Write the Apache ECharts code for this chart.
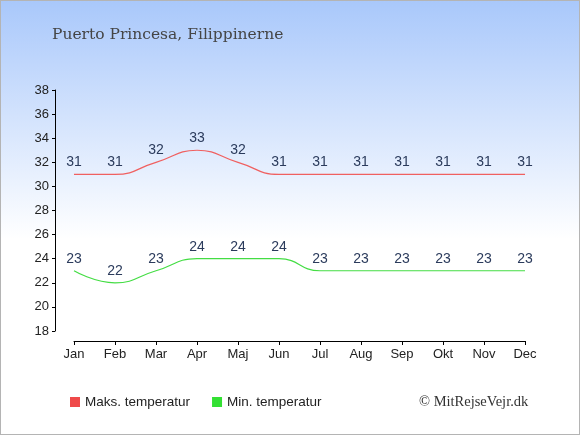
<!DOCTYPE html>
<html>
<head>
<meta charset="utf-8">
<script src="https://cdn.jsdelivr.net/npm/echarts@6/dist/echarts.min.js"></script>
<style>
  html, body { margin: 0; padding: 0; }
  #wrap { width: 580px; height: 435px; box-sizing: border-box; border: 1px solid #b4b4b4; }
  #chart { width: 578px; height: 433px; }
</style>
</head>
<body>
<div id="wrap"><div id="chart"></div></div>
<script>
const months = ['Jan', 'Feb', 'Mar', 'Apr', 'Maj', 'Jun', 'Jul', 'Aug', 'Sep', 'Okt', 'Nov', 'Dec']
const maxTemp = [31, 31, 32, 33, 32, 31, 31, 31, 31, 31, 31, 31]
const minTemp = [23, 22, 23, 24, 24, 24, 23, 23, 23, 23, 23, 23]
const titleText = 'Puerto Princesa, Filippinerne'
const copyText = '© MitRejseVejr.dk'

const chart = echarts.init(document.getElementById('chart'))

// label over each point
const pointLabel = {
  show: true,
  position: 'top',
  distance: 5,
  color: '#2b3b5c',
  fontSize: 14,
  fontFamily: 'Liberation Sans, Arial, sans-serif'
}

chart.setOption({
  animation: false,
  backgroundColor: new echarts.graphic.LinearGradient(0, 0, 0, 1, [
    { offset: 0, color: '#a9c8fb' },
    { offset: 0.55, color: '#ffffff' },
    { offset: 1, color: '#ffffff' }
  ]),
  title: [{
    text: titleText,
    left: 46,
    top: 21,
    textStyle: {
      fontFamily: 'DejaVu Serif, serif',
      fontWeight: 'normal',
      fontSize: 15.5,
      color: '#454545'
    }
  }, {
    text: copyText,
    left: 413,
    top: 389,
    textStyle: {
      fontFamily: 'Liberation Serif, Times New Roman, serif',
      fontWeight: 'normal',
      fontSize: 14.5,
      color: '#333'
    }
  }],
  legend: {
    left: 64,
    top: 389,
    itemWidth: 10,
    itemHeight: 10,
    itemGap: 22,
    icon: 'rect',
    textStyle: {
      fontFamily: 'Liberation Sans, Arial, sans-serif',
      fontSize: 13.5,
      color: '#222'
    },
    data: ['Maks. temperatur', 'Min. temperatur']
  },
  grid: {
    left: 73,
    right: 54,
    top: 89,
    bottom: 103
  },
  xAxis: {
    type: 'category',
    data: months,
    boundaryGap: false,
    offset: 10,
    axisLine: { lineStyle: { color: '#000', width: 1 } },
    axisTick: { alignWithLabel: true, length: 4, lineStyle: { color: '#000' } },
    axisLabel: {
      color: '#222',
      fontSize: 13,
      margin: 7,
      fontFamily: 'Liberation Sans, Arial, sans-serif'
    }
  },
  yAxis: {
    type: 'value',
    min: 18,
    max: 38,
    interval: 2,
    offset: 19,
    axisLine: { show: true, lineStyle: { color: '#000', width: 1 } },
    axisTick: { show: true, length: 3, lineStyle: { color: '#000' } },
    splitLine: { show: false },
    axisLabel: {
      color: '#222',
      fontSize: 13,
      margin: 6,
      fontFamily: 'Liberation Sans, Arial, sans-serif'
    }
  },
  series: [{
    name: 'Maks. temperatur',
    type: 'line',
    data: maxTemp,
    smooth: 0.5,
    symbol: 'circle',
    symbolSize: 0.1,
    showSymbol: true,
    color: '#ef4a4a',
    lineStyle: { width: 1.2, color: '#f06060' },
    label: pointLabel
  }, {
    name: 'Min. temperatur',
    type: 'line',
    data: minTemp,
    smooth: 0.5,
    symbol: 'circle',
    symbolSize: 0.1,
    showSymbol: true,
    color: '#33e033',
    lineStyle: { width: 1.2, color: '#44dd44' },
    label: pointLabel
  }]
})
</script>
</body>
</html>
